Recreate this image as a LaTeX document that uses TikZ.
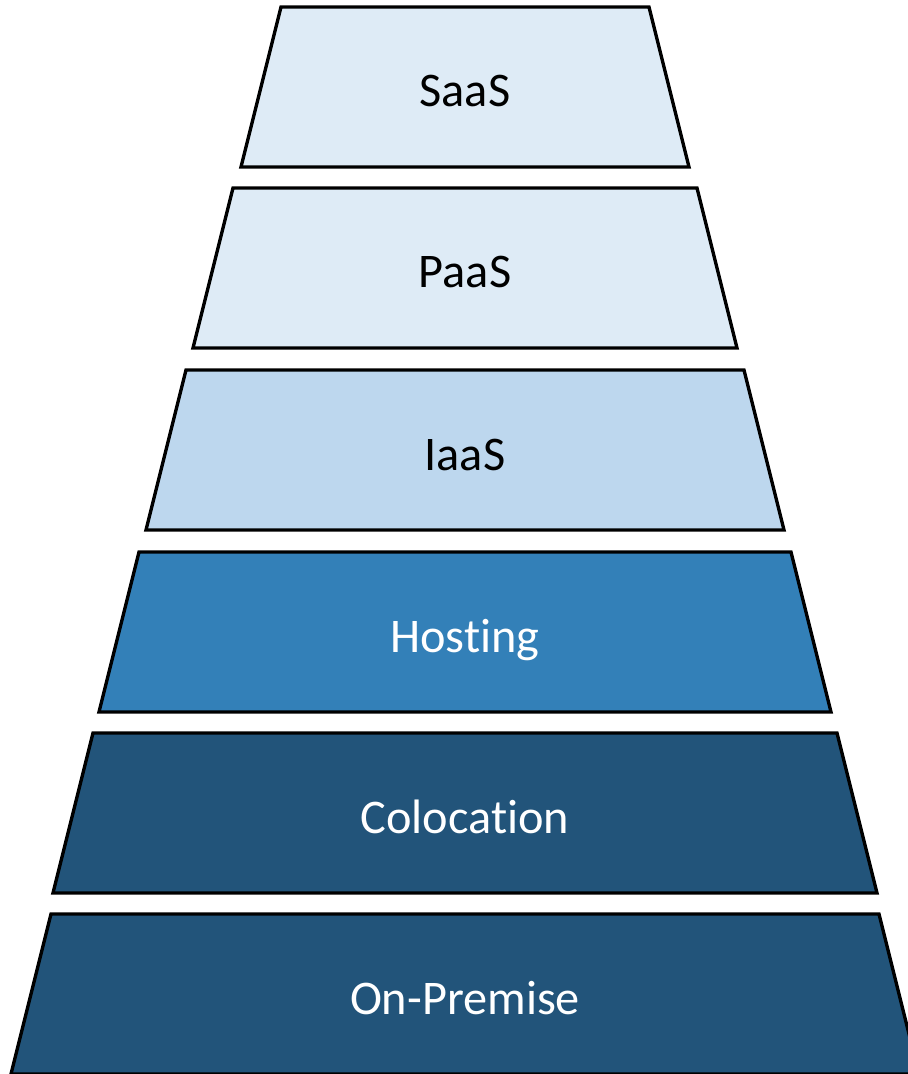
\documentclass[tikz,border=0pt]{standalone}
\usepackage{fontspec}
\setmainfont{Carlito}[Ligatures=NoCommon]
\definecolor{layerpale}{HTML}{DEEBF6}
\definecolor{layerlight}{HTML}{BDD7EE}
\definecolor{layermid}{HTML}{3380B8}
\definecolor{layerdark}{HTML}{22547A}
\begin{document}
\begin{tikzpicture}[x=0.02cm,y=-0.02cm]
    \useasboundingbox (0,0) rectangle (907,1074);
    % layers, top to bottom
    \foreach \top/\hw/\fcol/\tcol/\name/\txt in {7/184/layerpale/black/saas/SaaS,
            188/232/layerpale/black/paas/PaaS,
            370/279/layerlight/black/iaas/IaaS,
            552/326/layermid/white/hosting/Hosting,
            733/372/layerdark/white/colocation/Colocation,
            914/414/layerdark/white/onpremise/On-Premise}{
        \draw[line width=1.9pt, fill=\fcol] (465-\hw,\top) -- (465+\hw,\top) -- (465+\hw+40,\top+160) -- (465-\hw-40,\top+160) -- cycle;
        \node[anchor=base, text=\tcol, font=\fontsize{27.5}{33}\selectfont] (\name) at (465,\top+100) {\txt};
    }
\end{tikzpicture}
\end{document}
